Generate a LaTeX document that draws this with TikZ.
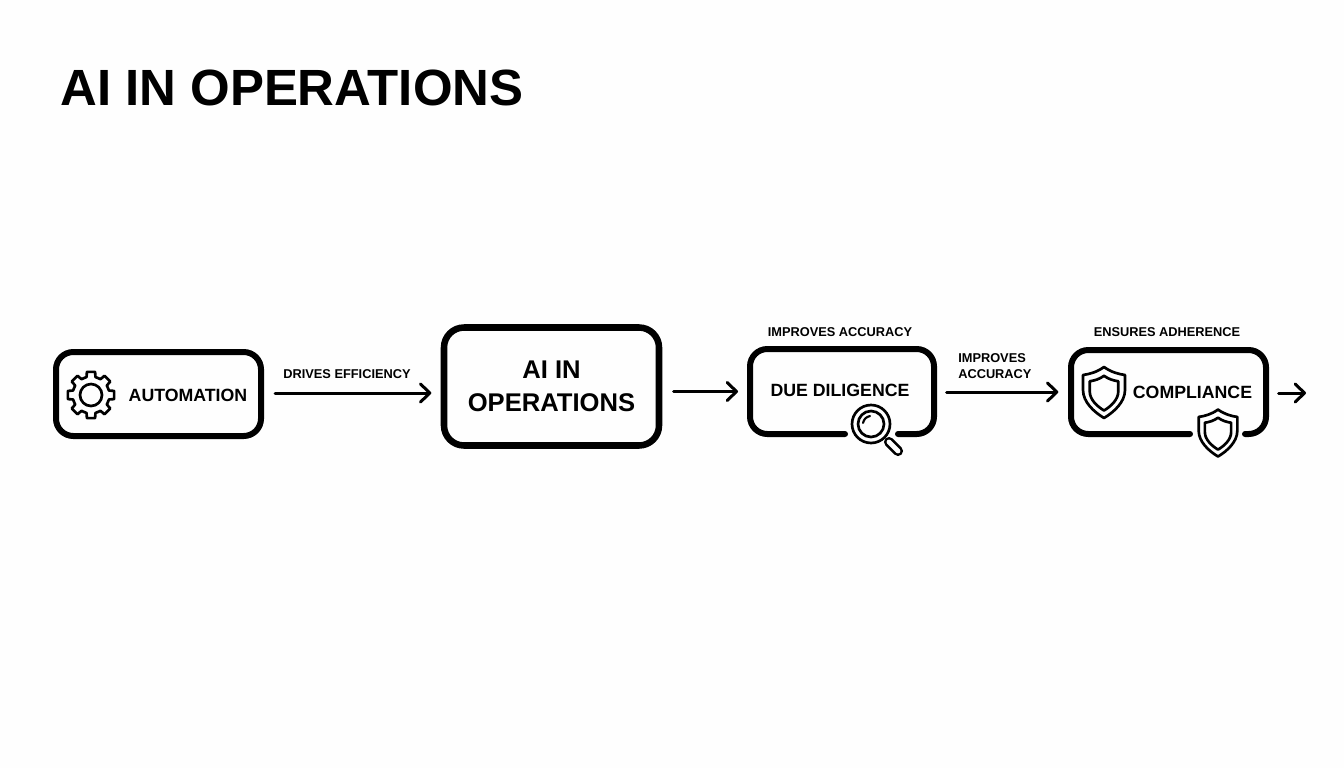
\documentclass[tikz,border=0pt]{standalone}
\usepackage{fontspec}
\setmainfont{Liberation Sans}
\usetikzlibrary{arrows.meta}
\definecolor{paper}{rgb}{.996,.998,.998}
\tikzset{
	boxframe/.style={line width=4.5pt,line cap=round,rounded corners=13pt},
	boxnode/.style={minimum width=#1,inner sep=0pt,outer sep=0pt},
	boxtext/.style={font=\bfseries\fontsize{13.3}{15}\selectfont,inner sep=0pt},
	linktext/.style={font=\bfseries\fontsize{9.6}{12}\selectfont,inner sep=0pt},
	flow/.style={line width=2.25pt,line cap=round,line join=round,-{Straight Barb[length=7pt,width=13.5pt,round]}},
	iconline/.style={line width=2pt,line join=round,line cap=round},
	shieldicon/.pic={
		\draw[iconline,fill=paper] (0,-26) .. controls (7,-21) and (14,-19) .. (21,-18) -- (21,-3) .. controls (21,9) and (10,19) .. (0,25) .. controls (-10,19) and (-21,9) .. (-21,-3) -- (-21,-18) .. controls (-14,-19) and (-7,-21) .. cycle;
		\draw[iconline,shift={(0,.5)},scale=.68] (0,-26) .. controls (7,-21) and (14,-19) .. (21,-18) -- (21,-3) .. controls (21,9) and (10,19) .. (0,25) .. controls (-10,19) and (-21,9) .. (-21,-3) -- (-21,-18) .. controls (-14,-19) and (-7,-21) .. cycle;
	}
}
\begin{document}
\begin{tikzpicture}[x=.75pt,y=-.75pt]
	\fill[paper] (0,0) rectangle (1344,768);
	\useasboundingbox (0,0) rectangle (1344,768);
	\node[anchor=base west,inner sep=0pt,font=\bfseries\fontsize{38.2}{40}\selectfont] (title) at (60,105) {AI IN OPERATIONS};
	% boxes
	\node[boxnode=153.75pt,minimum height=63pt,draw,line width=4.5pt,rounded corners=13pt] (automation) at (158.5,394) {};
	\node[boxnode=161.25pt,minimum height=88.5pt,draw,line width=4.9pt,rounded corners=15pt] (operations) at (551.5,386.5) {};
	\node[boxnode=138pt,minimum height=63.75pt] (due) at (842,391.5) {};
	\node[boxnode=146.25pt,minimum height=63pt] (compliance) at (1168.5,392) {};
	\path
	(845,434) coordinate (dueA)
	(898,434) coordinate (dueB)
	(1190,434) coordinate (complianceA)
	(1245,434) coordinate (complianceB)
	(1306,393) coordinate (out)
	;
	\draw[boxframe] (dueA) -| (due.north west) -| (due.south east) -- (dueB);
	\draw[boxframe] (complianceA) -| (compliance.north west) -| (compliance.south east) -- (complianceB);
	% box texts
	\node[boxtext] (automationtext) at (188,395) {AUTOMATION};
	\node[boxtext,align=center,font=\bfseries\fontsize{19.2}{24.75}\selectfont] (operationstext) at (551.5,386.5) {AI IN\\OPERATIONS};
	\node[boxtext] (duetext) at (840,390.5) {DUE DILIGENCE};
	\node[boxtext] (compliancetext) at (1192.5,392) {COMPLIANCE};
	% connectors
	\draw[flow,shorten <=10.5pt,shorten >=9.5pt] (automation.east |- 0,393) -- (operations.west |- 0,393);
	\draw[flow,shorten <=11pt,shorten >=9pt] (operations.east |- due.west) -- (due.west);
	\draw[flow,shorten <=9.5pt,shorten >=9.5pt] (due.east |- compliance.west) -- (compliance.west);
	\draw[flow,shorten <=9.5pt] (compliance.east |- out) -- (out);
	% link texts
	\node[linktext] (driveslabel) at (347,374) {DRIVES EFFICIENCY};
	\node[linktext] (improveslabel) at (840,332) {IMPROVES ACCURACY};
	\node[linktext] (ensureslabel) at (1167,332) {ENSURES ADHERENCE};
	\node[linktext,anchor=west,align=left] (accuracylabel) at (958,366) {IMPROVES\\ACCURACY};
	% gear
	\begin{scope}[shift={(91,395)}]
		\draw[iconline] (-14:18.5) \foreach \g in {0,45,...,315} {-- ({\g-14}:18.5) -- ({\g-10}:23.5) -- ({\g+10}:23.5) -- ({\g+14}:18.5)} -- cycle;
		\draw[iconline] (0,0) circle (11);
	\end{scope}
	% magnifier
	\draw[line width=2pt,double=paper,double distance=3.6pt,line cap=round] (889,442) -- (898,451);
	\draw[iconline,fill=paper] (871,424) circle (19);
	\draw[iconline] (871,424) circle (13);
	\draw[iconline,line width=1.6pt] (863,423) .. controls (864,419) and (866,417) .. (870,416);
	% shields
	\path (1104,393) pic {shieldicon};
	\path (1218,433.5) pic[scale=.92] {shieldicon};
\end{tikzpicture}
\end{document}
